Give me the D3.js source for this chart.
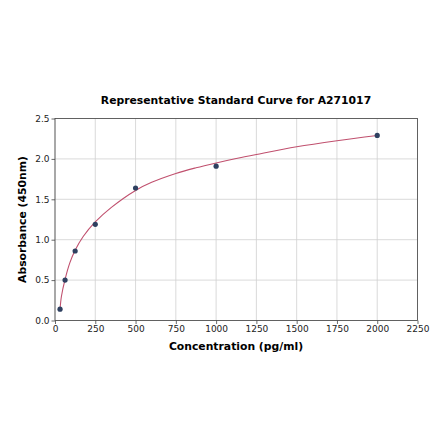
<!DOCTYPE html>
<html>
<head>
<meta charset="utf-8">
<script src="https://cdn.jsdelivr.net/npm/d3@7"></script>
<style>
body { margin: 0; background: #fff; }
text { font-family: "DejaVu Sans", sans-serif; }
</style>
</head>
<body>
<div id="chart"></div>
<script>
// standard points
var conc = [31.25, 62.5, 125, 250, 500, 1000, 2000];
var absorb = [0.14, 0.50, 0.86, 1.19, 1.64, 1.91, 2.29];

// fitted curve
var curveX = [31.25, 40, 62.5, 93, 125, 175, 250, 350, 500, 600, 750, 875, 1000, 1125, 1250, 1500, 1750, 2000];
var curveY = [0.14, 0.30, 0.51, 0.72, 0.87, 1.04, 1.22, 1.40, 1.61, 1.71, 1.82, 1.89, 1.95, 2.005, 2.055, 2.15, 2.225, 2.29];

var xTicks = [0, 250, 500, 750, 1000, 1250, 1500, 1750, 2000, 2250];
var yTicks = [0, 0.5, 1.0, 1.5, 2.0, 2.5];

var width = 440, height = 441;
var margin = {top: 118.5, right: 22.5, bottom: 120.5, left: 55};

var svg = d3.select("#chart").append("svg")
    .attr("width", width)
    .attr("height", height);

var xScale = d3.scaleLinear().domain([0, 2250]).range([margin.left, width - margin.right]);
var yScale = d3.scaleLinear().domain([0, 2.5]).range([height - margin.bottom, margin.top]);

// grid
svg.append("g").selectAll("line")
    .data(xTicks)
    .enter().append("line")
    .attr("x1", function(d) { return xScale(d); })
    .attr("x2", function(d) { return xScale(d); })
    .attr("y1", yScale(0))
    .attr("y2", yScale(2.5))
    .attr("stroke", "#d0d0d0")
    .attr("stroke-width", 0.8);

svg.append("g").selectAll("line")
    .data(yTicks)
    .enter().append("line")
    .attr("x1", xScale(0))
    .attr("x2", xScale(2250))
    .attr("y1", function(d) { return yScale(d); })
    .attr("y2", function(d) { return yScale(d); })
    .attr("stroke", "#d0d0d0")
    .attr("stroke-width", 0.8);

// axes
var xAxis = d3.axisBottom(xScale).tickValues(xTicks).tickSize(3.5).tickPadding(2).tickFormat(d3.format("d"));
var gx = svg.append("g")
    .attr("transform", "translate(0," + yScale(0) + ")")
    .call(xAxis);

var yAxis = d3.axisLeft(yScale).tickValues(yTicks).tickSize(3.5).tickPadding(2).tickFormat(d3.format(".1f"));
var gy = svg.append("g")
    .attr("transform", "translate(" + xScale(0) + ",0)")
    .call(yAxis);

[gx, gy].forEach(function(g) {
    g.select(".domain").remove();
    g.selectAll("line").attr("stroke", "#444").attr("stroke-width", 0.8);
    g.selectAll("text").attr("font-size", "9px").attr("fill", "#222")
        .style("font-family", "DejaVu Sans");
});

// frame
svg.append("rect")
    .attr("x", xScale(0))
    .attr("y", yScale(2.5))
    .attr("width", xScale(2250) - xScale(0))
    .attr("height", yScale(0) - yScale(2.5))
    .attr("fill", "none")
    .attr("stroke", "#444")
    .attr("stroke-width", 0.8);

// curve
var line = d3.line()
    .x(function(d) { return xScale(d[0]); })
    .y(function(d) { return yScale(d[1]); })
    .curve(d3.curveCatmullRom.alpha(0.5));

svg.append("path")
    .datum(d3.zip(curveX, curveY))
    .attr("d", line)
    .attr("fill", "none")
    .attr("stroke", "#c0506e")
    .attr("stroke-width", 1.1);

// points
svg.append("g").selectAll("circle")
    .data(d3.zip(conc, absorb))
    .enter().append("circle")
    .attr("cx", function(d) { return xScale(d[0]); })
    .attr("cy", function(d) { return yScale(d[1]); })
    .attr("r", 2.6)
    .attr("fill", "#2e4060");

// titles
svg.append("text")
    .attr("x", 236)
    .attr("y", 104)
    .attr("text-anchor", "middle")
    .attr("font-size", "10.8px")
    .attr("font-weight", "bold")
    .text("Representative Standard Curve for A271017");

svg.append("text")
    .attr("x", 236)
    .attr("y", 350)
    .attr("text-anchor", "middle")
    .attr("font-size", "10.8px")
    .attr("font-weight", "bold")
    .text("Concentration (pg/ml)");

svg.append("text")
    .attr("transform", "translate(26," + ((yScale(0) + yScale(2.5)) / 2) + ") rotate(-90)")
    .attr("text-anchor", "middle")
    .attr("font-size", "10.8px")
    .attr("font-weight", "bold")
    .text("Absorbance (450nm)");
</script>
</body>
</html>
